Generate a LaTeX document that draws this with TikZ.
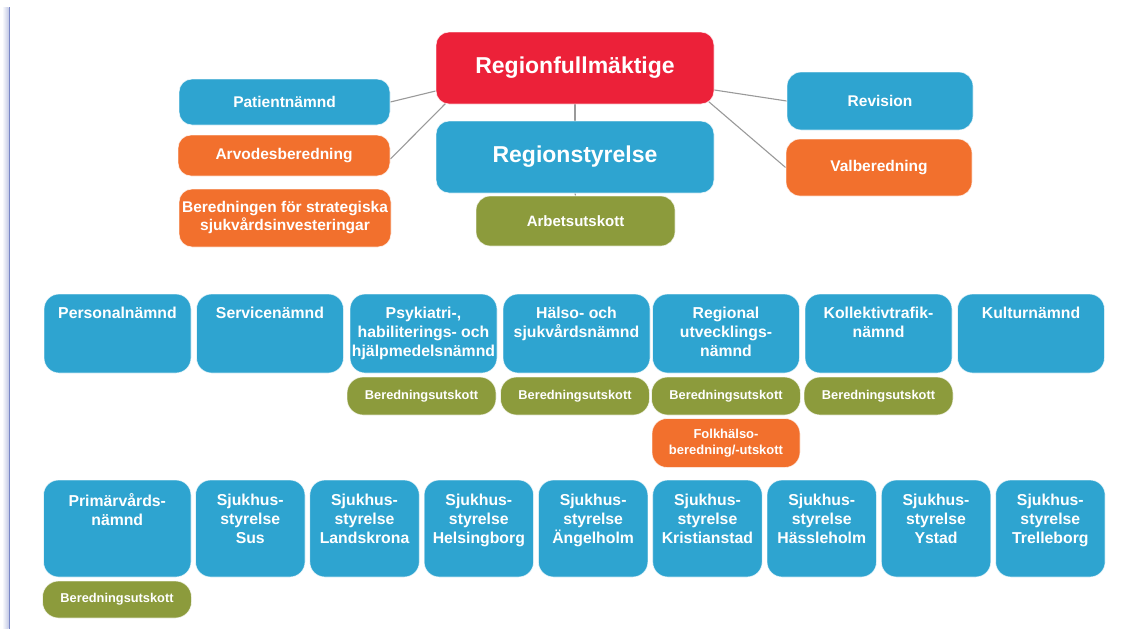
\documentclass[tikz,border=0pt]{standalone}
\usepackage{fontspec}
\setmainfont{Liberation Sans}
\usetikzlibrary{backgrounds}
\definecolor{rfmred}{HTML}{EC2139}
\definecolor{orgblue}{HTML}{2EA4D0}
\definecolor{orgorange}{HTML}{F2702D}
\definecolor{orgolive}{HTML}{8C9B3C}
\definecolor{linkgray}{HTML}{9A9A9A}
\definecolor{edgeblue}{HTML}{7A88C6}
\newcommand{\fs}[2]{\bfseries\fontsize{#1}{#2}\selectfont}
\tikzset{
  orgbox/.style={rectangle, rounded corners=13pt, draw=white, draw opacity=0.7,
    line width=0.8pt, inner sep=0pt, align=center, text=white},
  bluebox/.style={orgbox, fill=orgblue},
  redbox/.style={orgbox, fill=rfmred},
  orangebox/.style={orgbox, fill=orgorange},
  olivebox/.style={orgbox, fill=orgolive},
  pill/.style={orgbox, fill=orgolive, rounded corners=16pt, minimum width=149pt,
    minimum height=38pt, font=\fs{12.8}{15}},
  nbox/.style={bluebox, rounded corners=15pt, minimum width=147pt, minimum height=79pt},
  sbox/.style={bluebox, rounded corners=15pt, minimum width=109.5pt, minimum height=97pt},
  boxtext/.style={anchor=north, inner sep=0pt, align=center, text=white,
    font=\fs{15.8}{19}},
  link/.style={draw=linkgray, line width=1.1pt},
}
\begin{document}
\begin{tikzpicture}[x=1pt, y=-1pt]
\useasboundingbox (0,0) rectangle (1144,629);
\begin{scope}[on background layer]
  \fill[white] (0,0) rectangle (1144,629);
\end{scope}

% page edge on the left
\shade[left color=white, right color=edgeblue!45] (2,7) rectangle (8.6,629);
\draw[edgeblue, line width=1.4pt] (9.3,7) -- (9.3,629);

% top level
\node[redbox, minimum width=278pt, minimum height=72pt, font=\fs{23}{27}] (rfm) at (575,68) {Regionfullmäktige};
\node[bluebox, minimum width=278pt, minimum height=72pt, font=\fs{23}{27}] (rs) at (575,157) {Regionstyrelse};
\node[olivebox, rounded corners=14pt, minimum width=199pt, minimum height=50pt, font=\fs{15}{18}] (au) at (575.5,221) {Arbetsutskott};

\node[bluebox, minimum width=211pt, minimum height=46pt, font=\fs{15.5}{18}] (pat) at (284.5,102) {Patientnämnd};
\node[orangebox, minimum width=212pt, minimum height=41pt, font=\fs{15.5}{18}] (arv) at (284,155.5) {Arvodesberedning};
\node[orangebox, minimum width=212pt, minimum height=58pt, font=\fs{15.5}{18}] (strat) at (285,218) {Beredningen för strategiska\\sjukvårdsinvesteringar};

\node[bluebox, rounded corners=14pt, minimum width=186pt, minimum height=58pt, font=\fs{15.5}{18}] (rev) at (880,101) {Revision};
\node[orangebox, rounded corners=14pt, minimum width=186pt, minimum height=57pt, font=\fs{15.5}{18}] (val) at (879,167.5) {Valberedning};

% connectors of the top level, kept behind the boxes
\begin{scope}[on background layer]
  \draw[link] (pat.east) -- ([yshift=-23pt]rfm.west);
  \draw[link] ([yshift=-3.5pt]arv.east) -- ([xshift=10pt,yshift=1pt]rfm.south west);
  \draw[link] ([yshift=-22pt]rfm.east) -- (rev.west);
  \draw[link] ([xshift=-6pt,yshift=3pt]rfm.south east) -- (val.west);
  \draw[link] (rfm.south) -- (rs.north);
  \draw[link] (rs.south) -- (au.north);
\end{scope}

% committees
\node[nbox] (pers) at (117.5,333.5) {};
\node[nbox] (serv) at (270,333.5) {};
\node[nbox] (psyk) at (423.5,333.5) {};
\node[nbox] (hals) at (576.5,333.5) {};
\node[nbox] (reg)  at (726,333.5) {};
\node[nbox] (koll) at (878.5,333.5) {};
\node[nbox] (kult) at (1031,333.5) {};

\node[boxtext] (pers-t) at ([yshift=-13pt]pers.north) {Personalnämnd};
\node[boxtext] (serv-t) at ([yshift=-13pt]serv.north) {Servicenämnd};
\node[boxtext] (psyk-t) at ([yshift=-13pt]psyk.north) {Psykiatri-,\\habiliterings- och\\hjälpmedelsnämnd};
\node[boxtext] (hals-t) at ([yshift=-13pt]hals.north) {Hälso- och\\sjukvårdsnämnd};
\node[boxtext] (reg-t)  at ([yshift=-13pt]reg.north) {Regional\\utvecklings-\\nämnd};
\node[boxtext] (koll-t) at ([yshift=-13pt]koll.north) {Kollektivtrafik-\\nämnd};
\node[boxtext] (kult-t) at ([yshift=-13pt]kult.north) {Kulturnämnd};

\node[pill] (psyk-bu) at (421.5,396) {Beredningsutskott};
\node[pill] (hals-bu) at (575,396) {Beredningsutskott};
\node[pill] (reg-bu)  at (726,396) {Beredningsutskott};
\node[pill] (koll-bu) at (878.5,396) {Beredningsutskott};
\node[orangebox, rounded corners=15pt, minimum width=148pt, minimum height=49pt, font=\fs{13}{16}] (folk) at (726,443) {Folkhälso-\\beredning/-utskott};

% primary care and hospital boards
\node[sbox, minimum width=147.5pt] (prim) at (117.25,528.5) {};
\node[sbox] (sus)  at (250.25,528.5) {};
\node[sbox] (lkr)  at (364.55,528.5) {};
\node[sbox] (hbg)  at (478.85,528.5) {};
\node[sbox] (ang)  at (593.15,528.5) {};
\node[sbox] (krs)  at (707.45,528.5) {};
\node[sbox] (hlm)  at (821.75,528.5) {};
\node[sbox] (ysd)  at (936.05,528.5) {};
\node[sbox] (tbg)  at (1050.35,528.5) {};

\node[boxtext] (prim-t) at ([yshift=-14pt]prim.north) {Primärvårds-\\nämnd};
\node[boxtext] (sus-t)  at ([yshift=-14pt]sus.north) {Sjukhus-\\styrelse\\Sus};
\node[boxtext] (lkr-t)  at ([yshift=-14pt]lkr.north) {Sjukhus-\\styrelse\\Landskrona};
\node[boxtext] (hbg-t)  at ([yshift=-14pt]hbg.north) {Sjukhus-\\styrelse\\Helsingborg};
\node[boxtext] (ang-t)  at ([yshift=-14pt]ang.north) {Sjukhus-\\styrelse\\Ängelholm};
\node[boxtext] (krs-t)  at ([yshift=-14pt]krs.north) {Sjukhus-\\styrelse\\Kristianstad};
\node[boxtext] (hlm-t)  at ([yshift=-14pt]hlm.north) {Sjukhus-\\styrelse\\Hässleholm};
\node[boxtext] (ysd-t)  at ([yshift=-14pt]ysd.north) {Sjukhus-\\styrelse\\Ystad};
\node[boxtext] (tbg-t)  at ([yshift=-14pt]tbg.north) {Sjukhus-\\styrelse\\Trelleborg};

\node[pill, minimum height=37pt] (prim-bu) at (117,599.5) {Beredningsutskott};
\end{tikzpicture}
\end{document}
